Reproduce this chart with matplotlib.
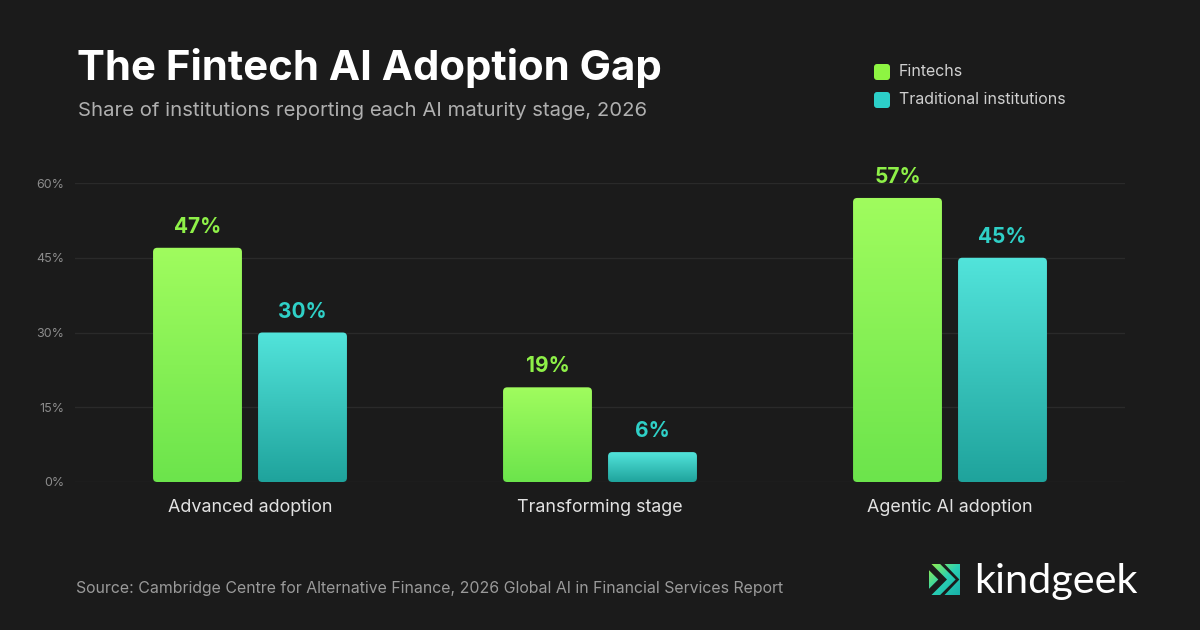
import matplotlib.pyplot as plt
import numpy as np
from matplotlib.patches import FancyBboxPatch, Polygon
from matplotlib.colors import LinearSegmentedColormap

plt.rcParams["font.family"] = ["Inter", "DejaVu Sans"]

BG = "#1b1b1b"
GRID = "#2a2a2a"

categories = ["Advanced adoption", "Transforming stage", "Agentic AI adoption"]
fintechs = [47, 19, 57]
traditional = [30, 6, 45]
yticks = [0, 15, 30, 45, 60]

GREEN_TOP, GREEN_BOT, GREEN_TXT = "#a0fc5e", "#6ce44c", "#8ef048"
TEAL_TOP, TEAL_BOT, TEAL_TXT = "#52e4db", "#1fa39c", "#2fd0c7"

W, H = 1200, 630
fig = plt.figure(figsize=(12, 6.3), dpi=100)
fig.patch.set_facecolor(BG)


def fx(px):
    return px / W


def fy(py):
    return 1 - py / H


ax = fig.add_axes([fx(75), fy(482), fx(1125) - fx(75), fy(183) - fy(482)])
ax.set_facecolor(BG)

x = np.arange(len(categories))
width = 0.254
off = 0.15

bars_f = ax.bar(x - off, fintechs, width, color="none", zorder=1)
bars_t = ax.bar(x + off, traditional, width, color="none", zorder=1)

# px per data unit, used to keep the corner round
aspect = 350 / (299 / 60)


def gradient_bar(patch, top, bottom):
    bx, by = patch.get_x(), patch.get_y()
    bw, bh = patch.get_width(), patch.get_height()
    clip = FancyBboxPatch((bx, by), bw, bh, boxstyle="round,pad=0,rounding_size=0.012",
                          mutation_aspect=aspect, fc="none", ec="none")
    ax.add_patch(clip)
    cmap = LinearSegmentedColormap.from_list("g", [bottom, top])
    im = ax.imshow(np.linspace(0, 1, 256).reshape(-1, 1), extent=(bx, bx + bw, by, by + bh),
                   aspect="auto", cmap=cmap, origin="lower", zorder=2)
    im.set_clip_path(clip)


for b in bars_f:
    gradient_bar(b, GREEN_TOP, GREEN_BOT)
for b in bars_t:
    gradient_bar(b, TEAL_TOP, TEAL_BOT)

for xi, v in zip(x - off, fintechs):
    ax.annotate(f"{v}%", (xi, v), xytext=(0, 10.8), textcoords="offset points", ha="center",
                va="baseline", fontsize=15, fontweight="bold", color=GREEN_TXT)
for xi, v in zip(x + off, traditional):
    ax.annotate(f"{v}%", (xi, v), xytext=(0, 10.8), textcoords="offset points", ha="center",
                va="baseline", fontsize=15, fontweight="bold", color=TEAL_TXT)

ax.set_xlim(-0.5, 2.5)
ax.set_ylim(0, 60)
ax.set_yticks(yticks)
ax.set_yticklabels([f"{t}%" for t in yticks])
ax.set_xticks(x)
ax.set_xticklabels(categories)
ax.tick_params(axis="y", length=0, pad=8, labelsize=9, labelcolor="#8c8c8c")
ax.tick_params(axis="x", length=0, pad=12, labelsize=12.9, labelcolor="#e2e2e2")
ax.grid(axis="y", color=GRID, linewidth=1, zorder=0)
ax.set_axisbelow(True)
for s in ax.spines.values():
    s.set_visible(False)

# titles
fig.text(fx(77), fy(68), "The Fintech AI Adoption Gap", fontsize=30.2, fontweight="bold",
         color="white", va="center", ha="left")
fig.text(fx(78), fy(111), "Share of institutions reporting each AI maturity stage, 2026",
         fontsize=14.6, color="#b0b0b0", va="center", ha="left")

# legend
for i, (lab, col) in enumerate([("Fintechs", "#8ef542"), ("Traditional institutions", "#2ccfc8")]):
    cy = 72 + 28 * i
    sq = FancyBboxPatch((fx(874), fy(cy + 8)), fx(16), fy(cy - 8) - fy(cy + 8),
                        boxstyle="round,pad=0,rounding_size=0.0025", mutation_aspect=W / H,
                        fc=col, ec="none", transform=fig.transFigure)
    fig.add_artist(sq)
    fig.text(fx(899), fy(cy), lab, fontsize=11.5, color="#d0d0d0", va="center", ha="left")

# source
fig.text(fx(76), fy(588), "Source: Cambridge Centre for Alternative Finance, 2026 Global AI in Financial Services Report",
         fontsize=11.42, color="#9a9a9a", va="center", ha="left")

# logo
lax = fig.add_axes([fx(929), fy(595), fx(31), fy(564) - fy(595)])
lax.set_xlim(0, 1)
lax.set_ylim(1, 0)
lax.axis("off")
logo_cmap = LinearSegmentedColormap.from_list("l", ["#98f04a", "#2ad0b4", "#18b0a8"])
gx, gy = np.meshgrid(np.linspace(0, 1, 64), np.linspace(0, 1, 64))
pieces = [
    [(0, 0.2), (0.3, 0.5), (0, 0.8)],
    [(0.08, 0), (0.36, 0), (0.86, 0.5), (0.36, 1), (0.08, 1), (0.58, 0.5)],
    [(0.5, 0), (1, 0), (1, 1), (0.5, 1), (0.98, 0.5)],
]
for pts in pieces:
    poly = Polygon(pts, closed=True, fc="none", ec="none")
    lax.add_patch(poly)
    im = lax.imshow((gx + gy) / 2, extent=(0, 1, 1, 0), cmap=logo_cmap, aspect="auto")
    im.set_clip_path(poly)
lax.set_xlim(0, 1)
lax.set_ylim(1, 0)

fig.text(fx(974), fy(582), "kindgeek", fontsize=29.8, color="white", va="center", ha="left",
         family=["Lato", "DejaVu Sans"])

fig.savefig("out.png", dpi=100, facecolor=BG)
